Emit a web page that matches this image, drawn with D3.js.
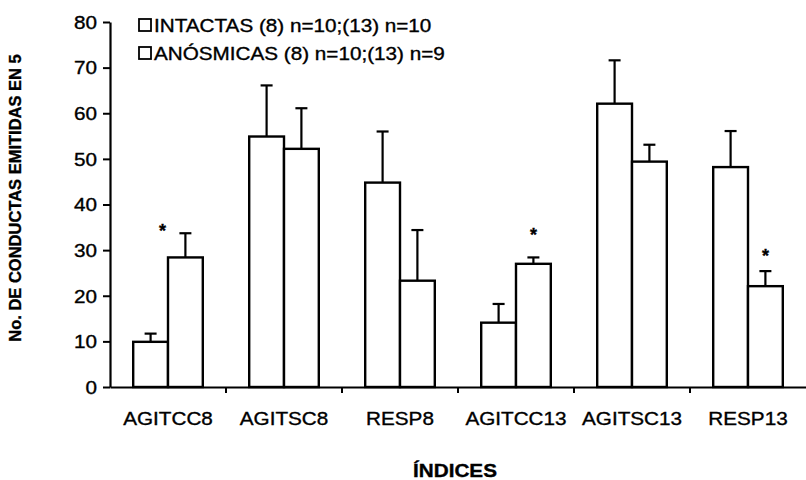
<!DOCTYPE html>
<html>
<head>
<meta charset="utf-8">
<script src="https://cdn.jsdelivr.net/npm/d3@7"></script>
<style>
  body { margin: 0; background: #fff; }
  text { font-family: "Liberation Sans", Arial, sans-serif; fill: #000; stroke: #000; stroke-width: 0.35px; }
</style>
</head>
<body>
<div id="chart"></div>
<script>
const categories = ["AGITCC8", "AGITSC8", "RESP8", "AGITCC13", "AGITSC13", "RESP13"];
const seriesNames = ["INTACTAS (8) n=10;(13) n=10", "ANÓSMICAS (8) n=10;(13) n=9"];
const intactas = [9.9, 54.9, 44.8, 14.1, 62.1, 48.2];
const intactasErr = [1.8, 11.2, 11.2, 4.1, 9.5, 7.9];
const anosmicas = [28.4, 52.2, 23.3, 27.0, 49.4, 22.1];
const anosmicasErr = [5.3, 8.9, 11.1, 1.4, 3.7, 3.3];
const starCats = ["AGITCC8", "AGITCC13", "RESP13"];
const starValues = [35.0, 34.3, 29.6];
const yTicks = [0, 10, 20, 30, 40, 50, 60, 70, 80];

const width = 806;
const height = 480;
const sx = 1.15; // scanned text is a bit wider than it is tall

const svg = d3
  .select("#chart")
  .append("svg")
  .attr("width", width)
  .attr("height", height);

const x = d3.scaleBand().domain(categories).range([110, 806]).padding(0);
const x1 = d3
  .scaleBand()
  .domain([0, 1])
  .range([x.bandwidth() * 0.2, x.bandwidth() * 0.8]);
const y = d3.scaleLinear().domain([0, 80]).range([387, 22]);

const rows = categories.map((c, i) => ({
  cat: c,
  vals: [
    { s: 0, v: intactas[i], e: intactasErr[i] },
    { s: 1, v: anosmicas[i], e: anosmicasErr[i] },
  ],
}));

// Bars + error bars
const groups = svg
  .append("g")
  .selectAll("g")
  .data(rows)
  .join("g")
  .attr("transform", (d) => `translate(${x(d.cat)},0)`);

const bars = groups
  .selectAll("g")
  .data((d) => d.vals)
  .join("g");

bars
  .append("line")
  .attr("x1", (d) => x1(d.s) + x1.bandwidth() / 2)
  .attr("x2", (d) => x1(d.s) + x1.bandwidth() / 2)
  .attr("y1", (d) => y(d.v))
  .attr("y2", (d) => y(d.v + d.e))
  .attr("stroke", "#000")
  .attr("stroke-width", 2.2);

bars
  .append("line")
  .attr("x1", (d) => x1(d.s) + x1.bandwidth() / 2 - 6)
  .attr("x2", (d) => x1(d.s) + x1.bandwidth() / 2 + 6)
  .attr("y1", (d) => y(d.v + d.e))
  .attr("y2", (d) => y(d.v + d.e))
  .attr("stroke", "#000")
  .attr("stroke-width", 2.2);

bars
  .append("rect")
  .attr("x", (d) => x1(d.s))
  .attr("width", x1.bandwidth())
  .attr("y", (d) => y(d.v))
  .attr("height", (d) => y(0) - y(d.v))
  .attr("fill", "#fff")
  .attr("stroke", "#000")
  .attr("stroke-width", 2.4);

// Significance stars (over anosmic bars)
const starShift = { AGITCC8: -23 };
svg
  .append("g")
  .selectAll("text")
  .data(starCats.map((c, i) => ({ cat: c, v: starValues[i] })))
  .join("text")
  .attr("text-anchor", "middle")
  .attr("font-size", 18)
  .attr("font-weight", "bold")
  .attr(
    "transform",
    (d) =>
      `translate(${x(d.cat) + x1(1) + x1.bandwidth() / 2 + (starShift[d.cat] || 0)},${y(d.v) + 10})`
  )
  .text("*");

// Y axis
const yAxis = svg
  .append("g")
  .attr("transform", "translate(110,0)")
  .call(d3.axisLeft(y).tickValues(yTicks).tickSize(7).tickSizeOuter(0).tickPadding(0));
yAxis.select(".domain").attr("stroke-width", 2.2);
yAxis.selectAll(".tick line").attr("stroke-width", 2);
yAxis
  .selectAll(".tick text")
  .attr("font-size", 18)
  .attr("font-family", null)
  .attr("x", null)
  .attr("dy", "0.35em")
  .attr("transform", `translate(-13,0) scale(${sx},1)`);

// X axis
const xAxis = svg
  .append("g")
  .attr("transform", `translate(0,${y(0)})`)
  .call(d3.axisBottom(x).tickSize(0).tickSizeOuter(0).tickPadding(0));
xAxis.select(".domain").attr("stroke-width", 2.2);
xAxis
  .selectAll(".tick text")
  .attr("font-size", 18)
  .attr("font-family", null)
  .attr("y", null)
  .attr("dy", null)
  .attr("transform", `translate(0,38) scale(${sx},1)`);
xAxis
  .selectAll(".sep")
  .data(categories.slice(1))
  .join("line")
  .attr("class", "sep")
  .attr("x1", (d) => x(d))
  .attr("x2", (d) => x(d))
  .attr("y1", 0)
  .attr("y2", 6)
  .attr("stroke", "#000")
  .attr("stroke-width", 2);

// Axis titles
svg
  .append("text")
  .attr("text-anchor", "middle")
  .attr("font-size", 16.5)
  .attr("font-weight", "bold")
  .attr("transform", "translate(21,198) rotate(-90)")
  .text("No. DE CONDUCTAS EMITIDAS EN 5");

svg
  .append("text")
  .attr("text-anchor", "middle")
  .attr("font-size", 18)
  .attr("font-weight", "bold")
  .attr("transform", `translate(455,477) scale(${sx},1)`)
  .text("ÍNDICES");

// Legend
const legend = svg
  .append("g")
  .selectAll("g")
  .data(seriesNames)
  .join("g")
  .attr("transform", (d, i) => `translate(139,${19 + i * 28})`);

legend
  .append("rect")
  .attr("width", 12)
  .attr("height", 12)
  .attr("fill", "#fff")
  .attr("stroke", "#000")
  .attr("stroke-width", 1.8);

legend
  .append("text")
  .attr("font-size", 18)
  .attr("transform", `translate(15,13) scale(${sx},1)`)
  .text((d) => d);
</script>
</body>
</html>
